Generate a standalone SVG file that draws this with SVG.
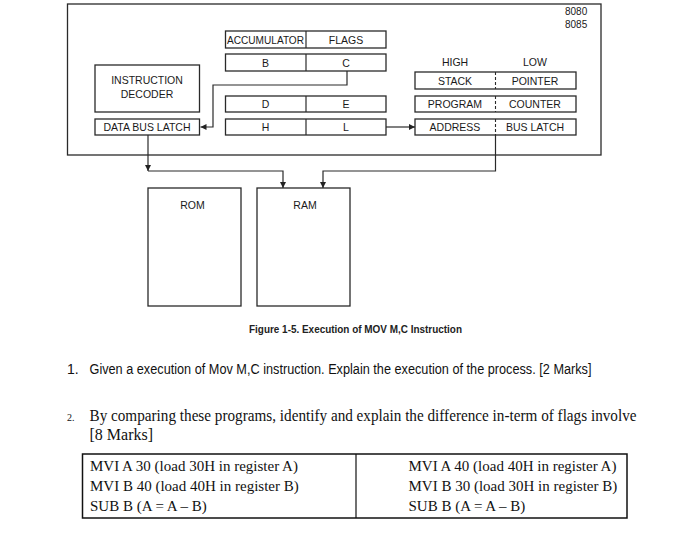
<svg xmlns="http://www.w3.org/2000/svg" width="700" height="536" viewBox="0 0 700 536">
<style>
.bx{fill:none;stroke:#2a2a2a;stroke-width:1.3}
.ln{fill:none;stroke:#2a2a2a;stroke-width:1.2}
.dl{fill:none;stroke:#2a2a2a;stroke-width:1.1;stroke-dasharray:3 2}
.t{font-family:"Liberation Sans",Arial,sans-serif;font-size:10.5px;fill:#1a1a1a;text-anchor:middle}
.q{font-family:"Liberation Sans",Arial,sans-serif;font-size:14px;fill:#111}
.s{font-family:"Liberation Serif","Times New Roman",serif;font-size:15px;fill:#111}
</style>
<defs>
<marker id="ah" viewBox="0 0 10 10" refX="10" refY="5" markerWidth="7" markerHeight="6" markerUnits="userSpaceOnUse" orient="auto">
<path d="M0,0 L10,5 L0,10 Z" fill="#222"/>
</marker>
</defs>
<rect width="700" height="536" fill="#fff"/>
<g id="cpu">
<rect class="bx" x="67.5" y="4" width="533.5" height="151"/>
<text class="t" x="565" y="14.5" style="text-anchor:start;font-size:10px">8080</text>
<text class="t" x="565" y="28" style="text-anchor:start;font-size:10px">8085</text>
</g>
<g id="acc-flags">
<rect class="bx" x="225.5" y="31" width="160.5" height="17"/>
<line class="ln" x1="306" y1="31" x2="306" y2="48"/>
<text class="t" x="265.5" y="43.5" textLength="77" lengthAdjust="spacingAndGlyphs">ACCUMULATOR</text>
<text class="t" x="346" y="43.5">FLAGS</text>
</g>
<g id="bc">
<rect class="bx" x="225.5" y="54" width="160.5" height="17"/>
<line class="ln" x1="306" y1="54" x2="306" y2="71"/>
<text class="t" x="265.5" y="66.5">B</text>
<text class="t" x="346" y="66.5">C</text>
</g>
<g id="de">
<rect class="bx" x="225.5" y="96" width="160.5" height="16"/>
<line class="ln" x1="306" y1="96" x2="306" y2="112"/>
<text class="t" x="265.5" y="108">D</text>
<text class="t" x="346" y="108">E</text>
</g>
<g id="hl">
<rect class="bx" x="225.5" y="119" width="160.5" height="16"/>
<line class="ln" x1="306" y1="119" x2="306" y2="135"/>
<text class="t" x="265.5" y="131">H</text>
<text class="t" x="346" y="131">L</text>
</g>
<g id="decoder">
<rect class="bx" x="95" y="65" width="104.5" height="47"/>
<text class="t" x="147" y="84">INSTRUCTION</text>
<text class="t" x="147" y="98">DECODER</text>
</g>
<g id="dbl">
<rect class="bx" x="95" y="119" width="104.5" height="16"/>
<text class="t" x="147" y="131">DATA BUS LATCH</text>
</g>
<g id="sp">
<text class="t" x="455" y="66">HIGH</text>
<text class="t" x="535" y="66">LOW</text>
<rect class="bx" x="415" y="72" width="161" height="17"/>
<line class="dl" x1="495.5" y1="72" x2="495.5" y2="89"/>
<text class="t" x="455" y="84.5">STACK</text>
<text class="t" x="535" y="84.5">POINTER</text>
</g>
<g id="pc">
<rect class="bx" x="415" y="96" width="161" height="16"/>
<line class="dl" x1="495.5" y1="96" x2="495.5" y2="112"/>
<text class="t" x="455" y="108">PROGRAM</text>
<text class="t" x="535" y="108">COUNTER</text>
</g>
<g id="abl">
<rect class="bx" x="415" y="119" width="161" height="16"/>
<line class="dl" x1="495.5" y1="119" x2="495.5" y2="135"/>
<text class="t" x="455" y="131">ADDRESS</text>
<text class="t" x="535" y="131">BUS LATCH</text>
</g>
<g id="rom">
<rect class="bx" x="148" y="188" width="93" height="118"/>
<text class="t" x="192.5" y="209">ROM</text>
</g>
<g id="ram">
<rect class="bx" x="257" y="188" width="93" height="118"/>
<text class="t" x="305" y="209">RAM</text>
</g>
<g id="connectors">
<path class="ln" d="M347,71 V85 H213 V127 H200.5" marker-end="url(#ah)"/>
<path class="ln" d="M386,127 H415" marker-end="url(#ah)"/>
<path class="ln" d="M148,135 V171" marker-end="url(#ah)"/>
<path class="ln" d="M148,171 H283 V188" marker-end="url(#ah)"/>
<path class="ln" d="M495.5,135 V171 H323 V188" marker-end="url(#ah)"/>
</g>
<text x="249" y="333" style="font-family:'Liberation Sans',Arial,sans-serif;font-size:10px;font-weight:bold;fill:#222" textLength="213" lengthAdjust="spacingAndGlyphs">Figure 1-5. Execution of MOV M,C Instruction</text>
<g id="questions">
<text class="q" x="67" y="374">1.</text>
<text class="q" x="89.5" y="374" textLength="502" lengthAdjust="spacingAndGlyphs">Given a execution of Mov M,C instruction. Explain the execution of the process. [2 Marks]</text>
<text class="s" x="67" y="420.5" style="font-size:10px">2.</text>
<text class="s" x="89.5" y="420.5" style="font-size:16px" textLength="547" lengthAdjust="spacingAndGlyphs">By comparing these programs, identify and explain the difference in-term of flags involve</text>
<text class="s" x="89.5" y="440" style="font-size:16px">[8 Marks]</text>
</g>
<g id="table">
<rect x="82.5" y="454" width="544.5" height="64" fill="none" stroke="#111" stroke-width="1.5"/>
<line x1="356" y1="454" x2="356" y2="518" stroke="#111" stroke-width="1.2"/>
<text class="s" x="90" y="470.5">MVI A 30 (load 30H in register A)</text>
<text class="s" x="90" y="490.5">MVI B 40 (load 40H in register B)</text>
<text class="s" x="90" y="510.5">SUB B (A = A – B)</text>
<text class="s" x="408.5" y="470.5">MVI A 40 (load 40H in register A)</text>
<text class="s" x="408.5" y="490.5">MVI B 30 (load 30H in register B)</text>
<text class="s" x="408.5" y="510.5">SUB B (A = A – B)</text>
</g>
</svg>
